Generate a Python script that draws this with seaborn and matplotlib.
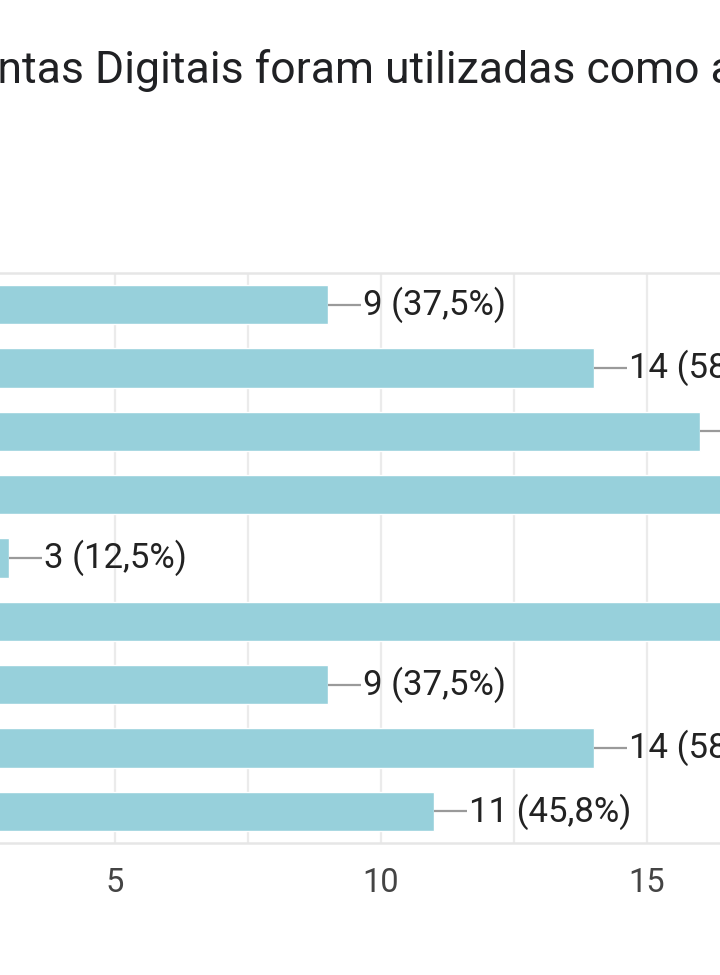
import matplotlib
matplotlib.use("Agg")
import matplotlib.pyplot as plt
import seaborn as sns
import pandas as pd
import numpy as np

# ==============================
# Data (24 respostas)
# ==============================
categories = ["Item 1", "Item 2", "Item 3", "Item 4", "Item 5",
              "Item 6", "Item 7", "Item 8", "Item 9"]
counts     = [9, 14, 16, 19, 3, 20, 9, 14, 11]
total      = 24
xticks     = [0, 5, 10, 15, 20]
title_txt  = "Quais Ferramentas Digitais foram utilizadas como apoio?"
title_cut  = "Quais Ferrame"   # part of the title that falls left of the picture

df = pd.DataFrame({"categoria": categories, "respostas": counts})

BAR   = "#97d0db"
GRID  = "#ebebeb"
TEXT  = "#222222"
TICK  = "#444444"
LEAD  = "#9a9a9a"

sns.set_theme(style="white")
plt.rcParams["font.family"] = ["Roboto", "DejaVu Sans"]

W, H = 720, 975
fig = plt.figure(figsize=(W / 100, H / 100), dpi=100)

# axes are wider than the figure: the picture is a crop of the original chart
px_per_unit = 53.2
x0_px = -151
ax = fig.add_axes([x0_px / W, (H - 843) / H,
                   px_per_unit * xticks[-1] / W, (843 - 273) / H])

sns.barplot(data=df, x="respostas", y="categoria", orient="h",
            color=BAR, saturation=1, width=0.62, ax=ax, zorder=2)

ax.set_xlim(0, xticks[-1])
ax.set_ylim(len(categories) - 0.5, -0.5)
ax.set_xticks(xticks)
ax.set_xticklabels([str(t) for t in xticks], fontsize=23.5, color=TICK)
ax.set_xticks(np.arange(0, xticks[-1] + 0.1, 2.5), minor=True)
ax.tick_params(axis="x", which="both", length=0, pad=17)
ax.set_yticks(range(len(categories)))
ax.set_yticklabels([])
ax.tick_params(axis="y", length=0)
ax.set_xlabel("")
ax.set_ylabel("")
ax.grid(axis="x", which="both", color=GRID, lw=1.6, zorder=0)
ax.set_axisbelow(True)

for side in ["left", "right"]:
    ax.spines[side].set_visible(False)
for side in ["top", "bottom"]:
    ax.spines[side].set_color("#e6e6e6")
    ax.spines[side].set_linewidth(1.8)

# leader lines + value labels
lead_len = 33 / px_per_unit
gap = 35 / px_per_unit
for i, v in enumerate(counts):
    ax.plot([v, v + lead_len], [i, i], color=LEAD, lw=1.6, zorder=3,
            solid_capstyle="butt")
    pct = f"{100 * v / total:.1f}".replace(".", ",")
    ax.text(v + gap, i, f"{v} ({pct}%)", va="center", ha="left",
            fontsize=25, color=TEXT, zorder=4)

# title, shifted so that only the middle part shows
fig.canvas.draw()
r = fig.canvas.get_renderer()
probe = fig.text(0, 0, title_cut, fontsize=32)
cut_w = probe.get_window_extent(renderer=r).width
probe.remove()
fig.text(-(cut_w + 3) / W, 1 - 70 / H, title_txt, fontsize=32, color="#202124",
         ha="left", va="center")

fig.savefig("out.png", dpi=100)
